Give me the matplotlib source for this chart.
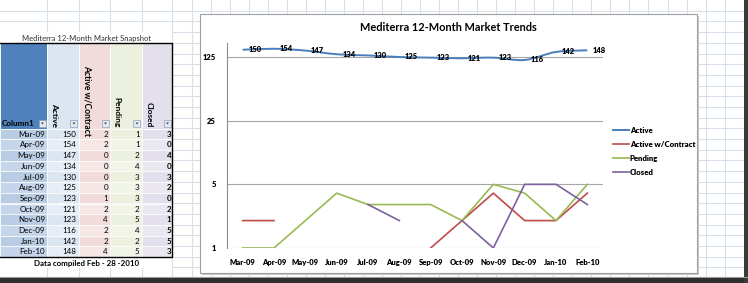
import numpy as np
import matplotlib
matplotlib.use("Agg")
import matplotlib.pyplot as plt
from matplotlib.patches import Rectangle, Polygon
from matplotlib.path import Path
from matplotlib.patches import PathPatch
import matplotlib.transforms as mtransforms

plt.rcParams['font.family'] = ['Lato', 'DejaVu Sans']

# ---------------- data ----------------
months = ["Mar-09", "Apr-09", "May-09", "Jun-09", "Jul-09", "Aug-09",
          "Sep-09", "Oct-09", "Nov-09", "Dec-09", "Jan-10", "Feb-10"]
active = [150, 154, 147, 134, 130, 125, 123, 121, 123, 116, 142, 148]
active_contract = [2, 2, 0, 0, 0, 0, 1, 2, 4, 2, 2, 4]
pending = [1, 1, 2, 4, 3, 3, 3, 2, 5, 4, 2, 5]
closed = [3, 0, 4, 0, 3, 2, 0, 2, 1, 5, 5, 3]
series_names = ["Active", "Active w/Contract", "Pending", "Closed"]
y_ticks = [1, 5, 25, 125]
chart_title = "Mediterra 12-Month Market Trends"
table_title = "Mediterra 12-Month Market Snapshot"
footer_text = "Data compiled Feb - 28 -2010"

colors = ["#4A7EBB", "#BE4B48", "#98B954", "#7D60A0"]

W, H = 748, 283
fig = plt.figure(figsize=(W / 100, H / 100), dpi=100)
fig.patch.set_facecolor("white")

# background axes in pixel coordinates
bg = fig.add_axes([0, 0, 1, 1])
bg.set_xlim(0, W)
bg.set_ylim(H, 0)
bg.axis("off")

grid_c = "#D8DEEA"
# spreadsheet gridlines
col_lines = [47.5, 79, 110.5, 142] + list(np.arange(172.5, W, 19.04))
for x in col_lines:
    bg.plot([x, x], [0, H], color=grid_c, lw=0.8, zorder=0)
for y in np.arange(10.7, H, 10.7):
    bg.plot([0, W], [y, y], color=grid_c, lw=0.8, zorder=0)

# ---------------- table ----------------
cols = [0, 47.5, 79, 110.5, 142, 172.5]
hdr_top, hdr_bot = 43, 128.6
row_h = 10.7
tbl_bot = hdr_bot + row_h * len(months)

# white cover for title row and footer row
bg.add_patch(Rectangle((0, 32), 172.5, 11, fc="white", ec="none", zorder=1))
bg.add_patch(Rectangle((0, tbl_bot), 172.5, 11, fc="white", ec="none", zorder=1))
bg.text(87, 38, table_title, ha="center", va="center", fontsize=5.5,
        color="#303030", zorder=5)
bg.text(87, tbl_bot + 6.3, footer_text, ha="center", va="center",
        fontsize=5.7, fontweight="bold", color="black", zorder=5)

hdr_colors = ["#4F81BD", "#DCE6F1", "#F2DCDB", "#EBF1DE", "#E4DFEC"]
row_colors = [("#B8CCE4", "#C5D6EA"), ("#DCE6F1", "#E6EDF6"),
              ("#F2DCDB", "#F6E6E5"), ("#EBF1DE", "#F1F5E8"),
              ("#E4DFEC", "#EBE7F1")]
for j in range(5):
    bg.add_patch(Rectangle((cols[j], hdr_top), cols[j + 1] - cols[j],
                           hdr_bot - hdr_top, fc=hdr_colors[j],
                           ec="white", lw=0.6, zorder=2))
    # dropdown button
    bx = cols[j + 1] - 8.5
    by = hdr_bot - 9
    bg.add_patch(Rectangle((bx, by), 7, 7, fc="#E4E9F0", ec="#8EA4C1",
                           lw=0.5, zorder=4))
    bg.add_patch(Polygon([[bx + 2, by + 3], [bx + 5, by + 3], [bx + 3.5, by + 4.8]],
                         closed=True, fc="#333333", ec="none", zorder=5))

bg.text(2, hdr_bot - 5.5, "Column1", ha="left", va="center", fontsize=5.9,
        fontweight="bold", color="black", zorder=5)
for j, name in enumerate(series_names):
    x0 = cols[j + 1] + 3.2
    if j == 1:
        t = bg.text(x0, 65, name, rotation=-90, ha="left", va="top",
                    fontsize=6.2, fontweight="bold", zorder=5)
        clip = Rectangle((cols[2], hdr_top), cols[3] - cols[2],
                         hdr_bot - hdr_top - 1.5, transform=bg.transData)
        t.set_clip_path(clip)
    else:
        bg.text(x0, hdr_bot - 1.5, name, rotation=-90, ha="left", va="bottom",
                fontsize=6.0, fontweight="bold", zorder=5)

table_vals = [months, active, active_contract, pending, closed]
for i in range(len(months)):
    y0 = hdr_bot + i * row_h
    for j in range(5):
        bg.add_patch(Rectangle((cols[j], y0), cols[j + 1] - cols[j], row_h,
                               fc=row_colors[j][i % 2], ec="white", lw=0.5,
                               zorder=2))
        val = table_vals[j][i]
        bg.text(cols[j + 1] - 2.5 if j < 4 else cols[j + 1] - 1.2,
                y0 + row_h / 2 + 0.3, str(val), ha="right", va="center",
                fontsize=5.8, color="black",
                fontweight="bold" if j == 4 else "normal", zorder=5)

# table border
bg.plot([0, 172.5, 172.5, 0], [hdr_top, hdr_top, tbl_bot, tbl_bot],
        color="black", lw=1.0, zorder=6)

# ---------------- chart box ----------------
bg.add_patch(Rectangle((202, 16), 497, 259, fc="#C8C8C8", ec="none", zorder=7))
bg.add_patch(Rectangle((200, 14), 497, 259, fc="white", ec="#A0A0A0",
                       lw=0.8, zorder=8))
bg.text(448, 27.5, chart_title, ha="center", va="center", fontsize=7.9,
        fontweight="bold", color="black", zorder=9)

# screenshot shadow
bg.add_patch(Rectangle((0, 277.5), W, 6, fc="#2E2E2E", ec="none", zorder=10))
bg.add_patch(Rectangle((744.5, 0), 4, H, fc="#3A3A3A", ec="none", zorder=10))
bg.plot([0, W], [277.3, 277.3], color="#9A9A9A", lw=0.8, zorder=10)

# ---------------- chart axes ----------------
px_dec = (248 - 57) / 3.0
ymax = 125 * 5 ** ((57 - 43) / px_dec)
left, right, top, bottom = 227, 603, 43, 248
ax = fig.add_axes([left / W, 1 - bottom / H, (right - left) / W, (bottom - top) / H])
ax.set_zorder(20)
ax.patch.set_alpha(0)
ax.set_yscale("log", base=5)
ax.set_ylim(1, ymax)
ax.set_xlim(-0.5, len(months) - 0.5)
ax.set_yticks(y_ticks)
ax.set_yticklabels([str(v) for v in y_ticks])
ax.yaxis.set_minor_locator(matplotlib.ticker.NullLocator())
ax.set_xticks(range(len(months)))
ax.set_xticklabels(months)
ax.tick_params(axis="both", length=0, labelsize=5.5)
ax.tick_params(axis="y", pad=8)
ax.tick_params(axis="x", pad=8)
for lab in ax.get_xticklabels() + ax.get_yticklabels():
    lab.set_fontweight("heavy")
for s in ["top", "right", "bottom"]:
    ax.spines[s].set_visible(False)
ax.spines["left"].set_color("#8C8C8C")
ax.spines["left"].set_linewidth(0.8)
ax.grid(axis="y", color="#A6A6A6", lw=0.8)
ax.set_axisbelow(True)

x = np.arange(len(months))


def masked(v):
    a = np.array(v, dtype=float)
    a[a <= 0] = np.nan
    return a


# Active: smoothed line (Catmull-Rom -> Bezier in log space)
ly = np.log(np.array(active, float)) / np.log(5)
lmax = np.log(ymax) / np.log(5)
verts = [(x[0], ly[0])]
codes = [Path.MOVETO]
n = len(x)
for i in range(n - 1):
    p0 = (x[max(i - 1, 0)], ly[max(i - 1, 0)])
    p1 = (x[i], ly[i])
    p2 = (x[i + 1], ly[i + 1])
    p3 = (x[min(i + 2, n - 1)], ly[min(i + 2, n - 1)])
    c1 = (p1[0] + (p2[0] - p0[0]) / 6, p1[1] + (p2[1] - p0[1]) / 6)
    c2 = (p2[0] - (p3[0] - p1[0]) / 6, p2[1] - (p3[1] - p1[1]) / 6)
    verts += [c1, c2, p2]
    codes += [Path.CURVE4] * 3
tr = mtransforms.Affine2D().translate(0.5, 0).scale(1.0 / n, 1.0 / lmax) + ax.transAxes
ax.add_patch(PathPatch(Path(verts, codes), fc="none", ec=colors[0], lw=1.4,
                       transform=tr, zorder=3))
ax.plot([], [], color=colors[0], lw=1.4, label=series_names[0])

ax.plot(x, masked(active_contract), color=colors[1], lw=1.2, label=series_names[1], zorder=3)
ax.plot(x, masked(pending), color=colors[2], lw=1.2, label=series_names[2], zorder=3)
ax.plot(x, masked(closed), color=colors[3], lw=1.2, label=series_names[3], zorder=3)

for xi, v in zip(x, active):
    ax.annotate(str(v), (xi, v), xytext=(4, 0), textcoords="offset points",
                ha="left", va="center", fontsize=5.4, fontweight="heavy",
                color="black", zorder=5)

leg = ax.legend(loc="upper left", bbox_to_anchor=(613 / W, 1 - 127 / H),
                bbox_transform=fig.transFigure, frameon=False, fontsize=5.6,
                handlelength=2.0, handletextpad=0.15, labelspacing=0.9,
                borderpad=0, borderaxespad=0)
for t in leg.get_texts():
    t.set_fontweight("heavy")

fig.savefig("out.png", dpi=100, facecolor="white")
